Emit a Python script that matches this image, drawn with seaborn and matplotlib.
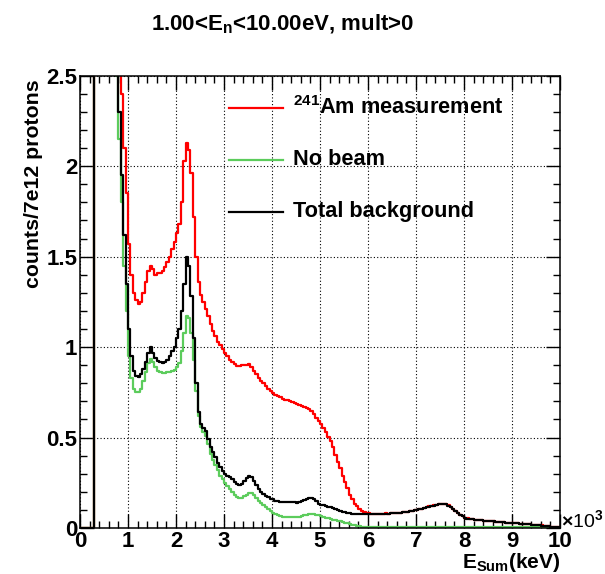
import numpy as np
import pandas as pd
import matplotlib
matplotlib.use("Agg")
import matplotlib.pyplot as plt
from matplotlib.ticker import MultipleLocator, FuncFormatter
import seaborn as sns

# Sum-energy spectra, 0.05 (x10^3 keV) bins from 0 to 10
bin_width = 0.05
n_bins = 200

am241_measurement = [
    0, 0, 0, 0, 0, 0, 4.8, 5.6, 6.1, 6.0,
    5.7, 5.2, 4.7, 4.1, 3.6, 3.2, 2.8, 2.4, 2.1, 1.85,
    1.57, 1.40, 1.30, 1.26, 1.24, 1.25, 1.30, 1.36, 1.42, 1.45,
    1.43, 1.40, 1.41, 1.41, 1.42, 1.44, 1.47, 1.50, 1.54, 1.58,
    1.63, 1.68, 1.80, 2.03, 2.13, 2.09, 1.96, 1.72, 1.50, 1.36,
    1.29, 1.25, 1.21, 1.17, 1.13, 1.09, 1.06, 1.03, 1.01, 0.99,
    0.97, 0.95, 0.93, 0.92, 0.905, 0.895, 0.895, 0.90, 0.90, 0.90,
    0.905, 0.89, 0.87, 0.85, 0.83, 0.815, 0.80, 0.785, 0.77, 0.755,
    0.745, 0.735, 0.73, 0.725, 0.715, 0.71, 0.705, 0.70, 0.695, 0.69,
    0.685, 0.68, 0.675, 0.67, 0.665, 0.655, 0.645, 0.63, 0.61, 0.59,
    0.575, 0.555, 0.53, 0.505, 0.48, 0.445, 0.405, 0.365, 0.33, 0.29,
    0.255, 0.22, 0.185, 0.16, 0.135, 0.12, 0.105, 0.095, 0.088, 0.083,
    0.081, 0.080, 0.080, 0.080, 0.079, 0.080, 0.080, 0.081, 0.080, 0.081,
    0.082, 0.082, 0.084, 0.085, 0.087, 0.090, 0.091, 0.094, 0.095, 0.098,
    0.100, 0.104, 0.106, 0.111, 0.114, 0.119, 0.121, 0.125, 0.127, 0.131,
    0.132, 0.133, 0.130, 0.125, 0.115, 0.106, 0.093, 0.083, 0.072, 0.065,
    0.057, 0.053, 0.049, 0.048, 0.046, 0.045, 0.044, 0.042, 0.041, 0.040,
    0.039, 0.037, 0.036, 0.035, 0.033, 0.032, 0.031, 0.030, 0.029, 0.028,
    0.027, 0.026, 0.025, 0.024, 0.023, 0.022, 0.021, 0.020, 0.019, 0.018,
    0.016, 0.015, 0.014, 0.012, 0.011, 0.010, 0.008, 0.007, 0.006, 0.005,
]

no_beam = [
    0, 0, 0, 0, 0, 0, 4.2, 5.0, 5.5, 5.4,
    5.0, 4.5, 3.9, 3.3, 2.8, 2.5, 2.15, 1.8, 1.45, 1.2,
    0.95, 0.83, 0.77, 0.75, 0.75, 0.77, 0.81, 0.86, 0.91, 0.935,
    0.92, 0.89, 0.87, 0.86, 0.855, 0.855, 0.86, 0.865, 0.87, 0.875,
    0.89, 0.91, 0.98, 1.08, 1.17, 1.16, 1.08, 0.93, 0.76, 0.62,
    0.56, 0.53, 0.51, 0.465, 0.41, 0.375, 0.35, 0.32, 0.29, 0.27,
    0.25, 0.23, 0.215, 0.20, 0.185, 0.172, 0.165, 0.168, 0.175, 0.185,
    0.195, 0.195, 0.18, 0.165, 0.15, 0.138, 0.125, 0.115, 0.105, 0.095,
    0.085, 0.077, 0.070, 0.066, 0.063, 0.061, 0.060, 0.059, 0.059, 0.060,
    0.061, 0.063, 0.066, 0.070, 0.074, 0.077, 0.078, 0.077, 0.074, 0.070,
    0.066, 0.062, 0.058, 0.054, 0.050, 0.046, 0.042, 0.039, 0.036, 0.033,
    0.029, 0.025, 0.021, 0.017, 0.014, 0.011, 0.009, 0.008, 0.007, 0.007,
    0.007, 0.007, 0.006, 0.007, 0.006, 0.006, 0.006, 0.006, 0.006, 0.006,
    0.006, 0.006, 0.006, 0.005, 0.006, 0.005, 0.005, 0.005, 0.005, 0.005,
    0.005, 0.005, 0.005, 0.005, 0.005, 0.005, 0.005, 0.005, 0.005, 0.005,
    0.005, 0.005, 0.005, 0.005, 0.005, 0.005, 0.004, 0.005, 0.004, 0.004,
    0.004, 0.004, 0.004, 0.004, 0.004, 0.004, 0.004, 0.004, 0.004, 0.004,
    0.004, 0.004, 0.003, 0.004, 0.004, 0.003, 0.003, 0.004, 0.003, 0.003,
    0.003, 0.003, 0.003, 0.003, 0.003, 0.003, 0.003, 0.003, 0.003, 0.003,
    0.003, 0.003, 0.002, 0.003, 0.002, 0.002, 0.002, 0.002, 0.002, 0.002,
]

total_background = [
    0, 0, 0, 0, 0, 0, 4.5, 5.3, 5.8, 5.7,
    5.3, 4.8, 4.2, 3.6, 3.1, 2.7, 2.3, 1.95, 1.62, 1.35,
    1.10, 0.95, 0.87, 0.84, 0.835, 0.85, 0.88, 0.92, 0.97, 1.00,
    0.97, 0.94, 0.925, 0.915, 0.91, 0.915, 0.93, 0.95, 0.98, 1.00,
    1.05, 1.10, 1.20, 1.35, 1.50, 1.45, 1.28, 1.05, 0.80, 0.64,
    0.575, 0.555, 0.535, 0.49, 0.45, 0.42, 0.39, 0.36, 0.335, 0.315,
    0.30, 0.29, 0.28, 0.27, 0.255, 0.245, 0.24, 0.245, 0.26, 0.275,
    0.285, 0.28, 0.26, 0.235, 0.215, 0.20, 0.19, 0.178, 0.17, 0.163,
    0.158, 0.152, 0.148, 0.146, 0.145, 0.145, 0.144, 0.143, 0.142, 0.142,
    0.140, 0.145, 0.150, 0.155, 0.160, 0.165, 0.167, 0.160, 0.148, 0.135,
    0.128, 0.125, 0.120, 0.117, 0.114, 0.110, 0.106, 0.100, 0.095, 0.090,
    0.086, 0.083, 0.081, 0.080, 0.080, 0.079, 0.080, 0.080, 0.079, 0.080,
    0.080, 0.080, 0.079, 0.080, 0.080, 0.080, 0.079, 0.080, 0.080, 0.081,
    0.081, 0.082, 0.083, 0.085, 0.087, 0.089, 0.091, 0.093, 0.095, 0.097,
    0.100, 0.103, 0.106, 0.110, 0.114, 0.118, 0.121, 0.124, 0.127, 0.130,
    0.132, 0.132, 0.130, 0.124, 0.115, 0.105, 0.093, 0.082, 0.072, 0.064,
    0.057, 0.052, 0.049, 0.047, 0.046, 0.045, 0.043, 0.042, 0.041, 0.040,
    0.038, 0.037, 0.036, 0.034, 0.033, 0.032, 0.031, 0.030, 0.029, 0.028,
    0.027, 0.026, 0.025, 0.024, 0.023, 0.022, 0.021, 0.020, 0.019, 0.018,
    0.016, 0.015, 0.013, 0.012, 0.011, 0.009, 0.008, 0.007, 0.006, 0.005,
]

series_labels = [r"$^{241}$Am measurement", "No beam", "Total background"]
series_colors = ["#ff0000", "#5ccc5c", "#000000"]

x_tick_labels = ["0", "1", "2", "3", "4", "5", "6", "7", "8", "9", "10"]

plt.rcParams["font.family"] = ["Liberation Sans", "DejaVu Sans"]
plt.rcParams["font.weight"] = "bold"
plt.rcParams["mathtext.fontset"] = "custom"
plt.rcParams["mathtext.rm"] = "Liberation Sans:bold"
plt.rcParams["mathtext.it"] = "Liberation Sans:bold"
plt.rcParams["mathtext.bf"] = "Liberation Sans:bold"

edges = [round(i * bin_width, 4) for i in range(n_bins + 1)]
centers = [e + bin_width / 2 for e in edges[:-1]]

frames = []
for label, vals in zip(series_labels, [am241_measurement, no_beam, total_background]):
    frames.append(pd.DataFrame({"esum": centers, "counts": vals, "series": label}))
df = pd.concat(frames, ignore_index=True)

W, H = 605, 574
fig = plt.figure(figsize=(W / 100, H / 100), dpi=100)
ax = fig.add_axes([80 / W, 46 / H, 480 / W, 452.3 / H])

for label, color in zip(series_labels, series_colors):
    sub = df[df["series"] == label]
    sns.histplot(data=sub, x="esum", weights="counts", bins=edges,
                 element="step", fill=False, color=color, linewidth=1.6,
                 ax=ax)

ax.set_xlim(0, 10)
ax.set_ylim(0, 2.5)
ax.set_xlabel("")
ax.set_ylabel("")

ax.xaxis.set_major_locator(MultipleLocator(1))
ax.xaxis.set_minor_locator(MultipleLocator(0.2))
ax.yaxis.set_major_locator(MultipleLocator(0.5))
ax.yaxis.set_minor_locator(MultipleLocator(0.1))
ax.set_xticks(range(len(x_tick_labels)))
ax.set_xticklabels(x_tick_labels)
ax.yaxis.set_major_formatter(FuncFormatter(lambda v, p: f"{v:g}"))

ax.tick_params(which="both", direction="in", top=True, right=True,
               width=1.0, colors="black")
ax.tick_params(which="major", length=10)
ax.tick_params(which="minor", length=5)
ax.tick_params(axis="x", which="major", labelsize=16, pad=2)
ax.tick_params(axis="y", which="major", labelsize=16, pad=2)
for lab in ax.get_xticklabels() + ax.get_yticklabels():
    lab.set_fontweight("bold")

for sp in ax.spines.values():
    sp.set_linewidth(1.1)
    sp.set_color("black")

ax.set_axisbelow(True)
ax.grid(True, which="major", color="black", linestyle=(0, (1, 2)),
        linewidth=0.8)

# legend entries drawn as short line segments with labels
legend_y = [0.929, 0.814, 0.699]
for label, color, yy in zip(series_labels, series_colors, legend_y):
    ax.plot([0.310, 0.423], [yy, yy], color=color, linewidth=1.6,
            transform=ax.transAxes, clip_on=False)
    ax.text(0.444, yy, label, transform=ax.transAxes, ha="left",
            va="center", fontsize=15.7, fontweight="bold")

fig.text(283 / W, 1 - 24 / H, r"1.00<E$_{\mathrm{n}}$<10.00eV, mult>0",
         ha="center", va="center", fontsize=16, fontweight="bold")
fig.text(34 / W, 1 - 184 / H, "counts/7e12 protons", rotation=90,
         ha="center", va="center", fontsize=15.3, fontweight="bold")
fig.text(560 / W, 1 - 568 / H, r"E$_{\mathrm{Sum}}$(keV)",
         ha="right", va="baseline", fontsize=15, fontweight="bold")
fig.text(561 / W, 1 - 520 / H, r"$\times$10$^{3}$",
         ha="left", va="center", fontsize=14, fontweight="normal")

fig.savefig("out.png", dpi=100, facecolor="white")
